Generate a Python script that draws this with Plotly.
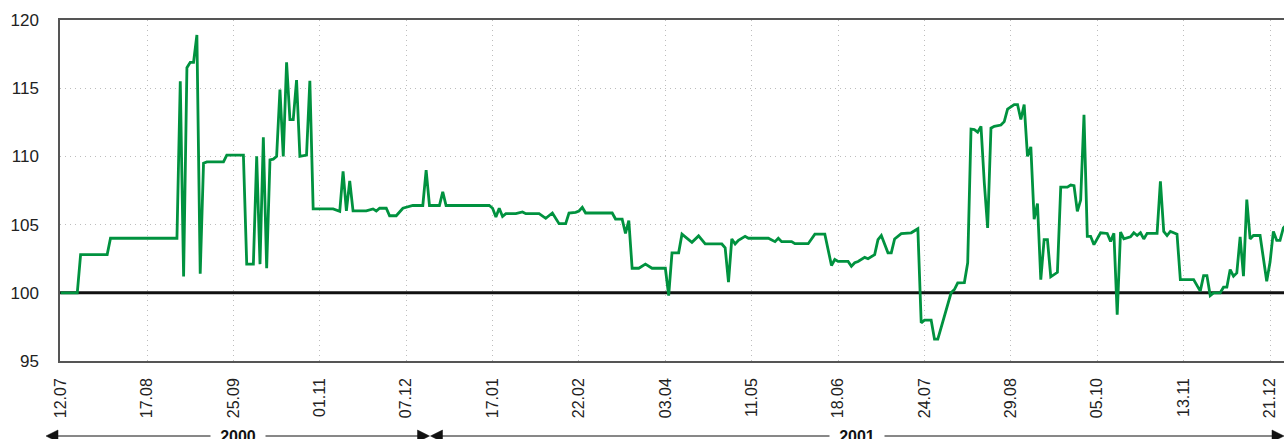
import plotly.graph_objects as go

# ---------------- data ----------------
tick_labels = ["12.07", "17.08", "25.09", "01.11", "07.12", "17.01", "22.02", "03.04",
               "11.05", "18.06", "24.07", "29.08", "05.10", "13.11", "21.12"]
tick_step = 26  # trading days between labelled ticks
year_labels = ["2000", "2001"]
baseline = 100

day_index = [0, 5, 6, 14, 15, 35, 36, 37, 38, 39, 40, 41, 42, 43, 44, 49, 50, 55, 56, 58,
             59, 60, 61, 62, 63, 64, 65, 66, 67, 68, 69, 70, 71, 72, 74, 75, 76, 82, 84, 85,
             86, 87, 88, 92, 94, 95, 96, 98, 99, 101, 103, 105, 106, 109, 110, 111, 114, 115, 116, 129,
             130, 131, 132, 133, 134, 137, 139, 140, 144, 146, 148, 150, 152, 153, 155, 156, 157, 158, 166, 167,
             169, 170, 171, 172, 174, 176, 178, 182, 183, 184, 186, 187, 190, 192, 194, 199, 200, 201, 202, 203,
             204, 206, 207, 213, 215, 216, 217, 220, 221, 225, 227, 230, 231, 232, 233, 234, 237, 238, 239, 240,
             242, 243, 245, 246, 247, 249, 250, 251, 253, 256, 258, 259, 260, 262, 263, 264, 265, 267, 268, 269,
             270, 272, 273, 274, 275, 276, 277, 278, 279, 280, 281, 283, 284, 285, 287, 288, 289, 290, 291, 292,
             293, 294, 295, 296, 297, 298, 300, 301, 303, 304, 305, 306, 307, 308, 309, 310, 311, 313, 315, 316,
             317, 318, 319, 320, 322, 323, 324, 325, 326, 327, 330, 331, 332, 333, 334, 335, 336, 337, 341, 343,
             344, 345, 346, 347, 349, 350, 351, 352, 353, 354, 355, 356, 357, 358, 359, 361, 363, 364, 365, 366,
             367, 368, 369]

value = [100.0, 100.0, 102.8, 102.8, 104.0, 104.0, 115.5, 101.2, 116.5, 116.9, 116.9, 118.9, 101.4, 109.5, 109.6, 109.6, 110.1, 110.1, 102.1, 102.1,
         110.0, 102.1, 111.4, 101.8, 109.75, 109.8, 110.0, 114.9, 110.0, 116.9, 112.7, 112.7, 115.6, 110.0, 110.1, 115.55, 106.15, 106.15, 105.97, 108.9,
         106.0, 108.2, 106.0, 106.0, 106.15, 106.0, 106.2, 106.2, 105.65, 105.65, 106.2, 106.3, 106.4, 106.4, 109.0, 106.4, 106.4, 107.4, 106.4, 106.4,
         106.2, 105.56, 106.2, 105.6, 105.8, 105.8, 105.93, 105.8, 105.8, 105.46, 105.85, 105.07, 105.07, 105.85, 105.9, 106.0, 106.26, 105.85, 105.85, 105.41,
         105.4, 104.35, 105.3, 101.8, 101.8, 102.1, 101.8, 101.8, 99.8, 102.93, 102.93, 104.3, 103.7, 104.17, 103.58, 103.58, 103.3, 100.78, 103.95, 103.58,
         103.85, 104.14, 104.0, 104.0, 103.75, 104.0, 103.75, 103.75, 103.6, 103.6, 104.3, 104.3, 103.05, 102.0, 102.44, 102.3, 102.3, 101.95, 102.2, 102.3,
         102.6, 102.5, 102.8, 103.9, 104.2, 102.93, 102.93, 103.95, 104.34, 104.4, 104.7, 97.8, 98.0, 98.0, 96.6, 96.6, 97.45, 99.27, 100.0, 100.24,
         100.73, 100.75, 102.2, 112.0, 111.97, 111.78, 112.2, 108.05, 104.75, 112.07, 112.2, 112.3, 112.55, 113.46, 113.8, 113.8, 112.7, 113.8, 110.0, 110.7,
         105.4, 106.54, 100.97, 103.9, 103.9, 101.17, 101.5, 107.75, 107.75, 107.9, 107.85, 105.97, 106.8, 113.05, 104.14, 104.14, 103.53, 104.4, 104.35, 103.77,
         104.36, 98.4, 104.45, 103.95, 104.1, 104.4, 104.2, 104.4, 103.95, 104.36, 104.36, 108.17, 104.5, 104.2, 104.5, 104.4, 104.3, 100.97, 100.97, 100.12,
         101.26, 101.26, 99.8, 100.0, 100.0, 100.41, 100.41, 101.7, 101.22, 101.46, 104.1, 101.22, 106.83, 103.95, 104.2, 104.2, 100.85, 102.25, 104.5, 103.85,
         103.85, 104.76, 105.0]

# ---------------- layout geometry ----------------
W, H = 1284, 439
ML, MR, MT, MB = 60, 0, 20, 78
PW, PH = W - ML - MR, H - MT - MB
X_RANGE = [-0.2, 368.2]
Y_RANGE = [95, 120]

FONT = "Liberation Sans, Arial, Helvetica, sans-serif"
GREEN = "#00923f"
FRAME = "#555555"
GRID = "#bdbdbd"


def px_x(p):
    """page pixel x -> paper fraction"""
    return (p - ML) / PW


def px_y(p):
    """page pixel y -> paper fraction"""
    return (MT + PH - p) / PH


fig = go.Figure()
# reference level line (a trace so it sits above the grid, below the series)
fig.add_trace(go.Scatter(
    x=X_RANGE, y=[baseline, baseline], mode="lines",
    line=dict(color="#111111", width=3),
    hoverinfo="skip", showlegend=False,
))
fig.add_trace(go.Scatter(
    x=day_index, y=value, mode="lines",
    line=dict(color=GREEN, width=2.8),
    hoverinfo="skip", showlegend=False,
))

tickvals = [i * tick_step for i in range(len(tick_labels))]

shapes = []

# year arrows (decoration below the date labels)
arrow_y = 436
half_h = 6
head_len = 12
year_spans = [(46, 429.5), (430.5, 1284)]
year_centers = []
for (a, b) in year_spans:
    year_centers.append((a + b) / 2)
    shapes.append(dict(type="line", xref="paper", yref="paper",
                       x0=px_x(a + head_len - 1), x1=px_x(b - head_len + 1),
                       y0=px_y(arrow_y), y1=px_y(arrow_y),
                       line=dict(color="#111111", width=1)))
    shapes.append(dict(type="path", xref="paper", yref="paper",
                       path=f"M {px_x(a)},{px_y(arrow_y)} L {px_x(a + head_len)},{px_y(arrow_y - half_h)} "
                            f"L {px_x(a + head_len)},{px_y(arrow_y + half_h)} Z",
                       fillcolor="#111111", line=dict(color="#111111", width=0.5)))
    shapes.append(dict(type="path", xref="paper", yref="paper",
                       path=f"M {px_x(b)},{px_y(arrow_y)} L {px_x(b - head_len)},{px_y(arrow_y - half_h)} "
                            f"L {px_x(b - head_len)},{px_y(arrow_y + half_h)} Z",
                       fillcolor="#111111", line=dict(color="#111111", width=0.5)))

annotations = []
for lab, c in zip(year_labels, year_centers):
    annotations.append(dict(
        text=f"<b>{lab}</b>", xref="paper", yref="paper",
        x=px_x(c), y=px_y(arrow_y), xanchor="center", yanchor="middle",
        showarrow=False, bgcolor="white", width=54, borderpad=0,
        font=dict(family=FONT, size=16, color="#111111"),
    ))

fig.update_layout(
    width=W, height=H,
    margin=dict(l=ML, r=MR, t=MT, b=MB, pad=0, autoexpand=False),
    paper_bgcolor="white", plot_bgcolor="white",
    showlegend=False,
    shapes=shapes,
    annotations=annotations,
    xaxis=dict(
        range=X_RANGE, tickmode="array", tickvals=tickvals, ticktext=tick_labels,
        tickangle=-90, ticks="", ticklabelstandoff=9, automargin=False,
        tickfont=dict(family=FONT, size=16, color="#222222"),
        showgrid=True, gridcolor=GRID, griddash="1px,4px", gridwidth=1,
        showline=True, linecolor=FRAME, linewidth=1.5, mirror=True,
        zeroline=False, fixedrange=True,
    ),
    yaxis=dict(
        range=Y_RANGE, tickmode="array", tickvals=[95, 100, 105, 110, 115, 120],
        ticks="", ticklabelstandoff=16, automargin=False,
        tickfont=dict(family=FONT, size=17, color="#222222"),
        showgrid=True, gridcolor=GRID, griddash="1px,4px", gridwidth=1,
        showline=True, linecolor=FRAME, linewidth=1.5, mirror=False,
        zeroline=False, fixedrange=True,
    ),
)

page_fix = ("document.body.style.margin='0';document.body.style.padding='0';"
            "document.documentElement.style.overflow='hidden';document.body.style.overflow='hidden';")

fig.write_html("out.html", include_plotlyjs=True, config={"displayModeBar": False},
               post_script=page_fix)
